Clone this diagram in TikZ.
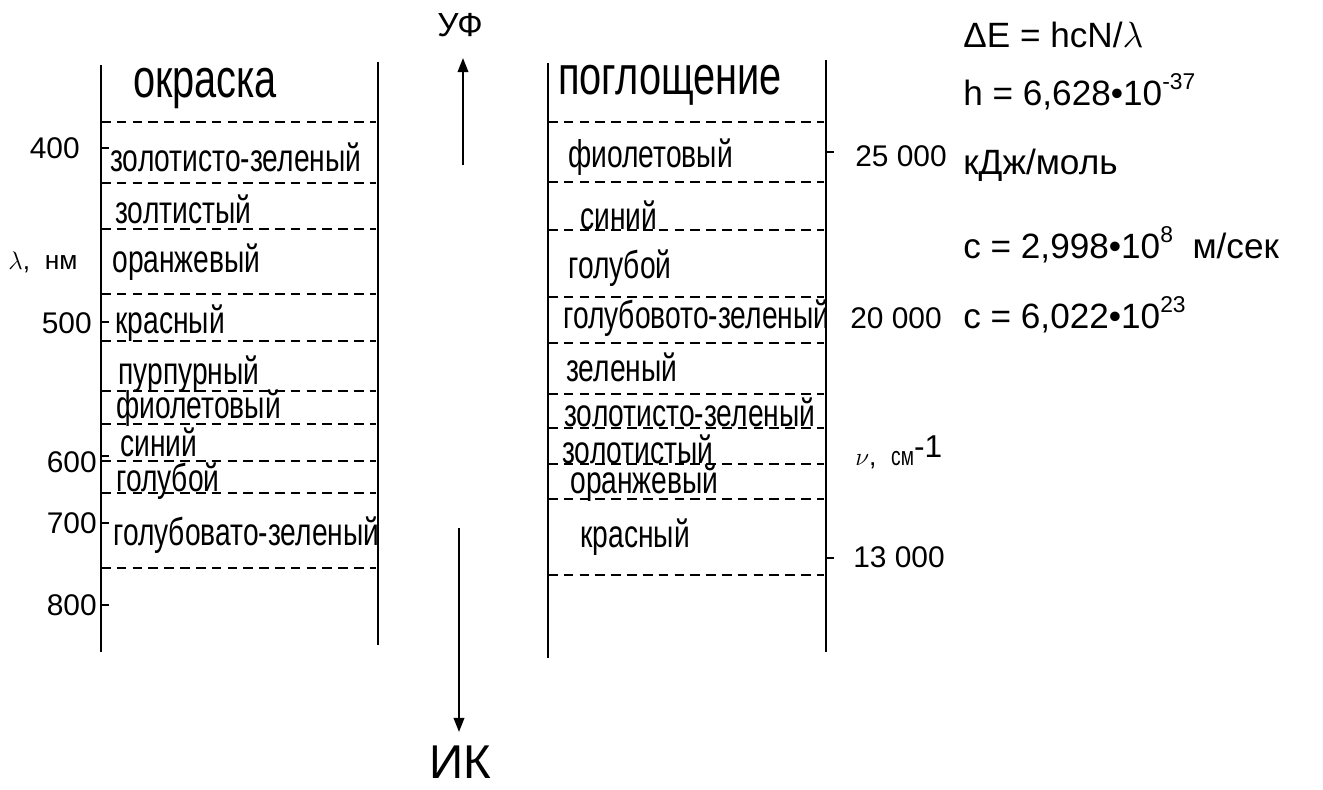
\documentclass[tikz,border=0pt]{standalone}
\usepackage{fontspec}
\setmainfont{Liberation Sans}
\newfontfamily\narrowfont[FakeStretch=0.73]{Liberation Sans}
\usetikzlibrary{arrows.meta}
\newcommand{\supx}[1]{\raisebox{0.85ex}{\fontsize{13}{13}\selectfont #1}}
\tikzset{
  colln/.style={line width=1.1pt},
  bandln/.style={dashed,dash pattern=on 5.5pt off 3.5pt,line width=0.9pt},
  tickln/.style={line width=1pt},
  band/.style={anchor=west,inner sep=0pt,font=\narrowfont\fontsize{22}{22}\selectfont},
  head/.style={inner sep=0pt,font=\narrowfont\fontsize{31}{31}\selectfont},
  num/.style={inner sep=0pt,font=\fontsize{17}{17}\selectfont},
  axlab/.style={inner sep=0pt,font=\fontsize{15}{15}\selectfont},
  frm/.style={anchor=west,inner sep=0pt,font=\fontsize{20}{20}\selectfont},
  dirarr/.style={-{Triangle[length=8pt,width=6pt]},line width=1.1pt},
}
\begin{document}
\begin{tikzpicture}[x=0.02cm,y=-0.02cm]
  \useasboundingbox (0,0) rectangle (1323,789);
  % колонки
  \draw[colln] (101,65)--(101,652);
  \draw[colln] (378,62)--(378,645);
  \draw[colln] (548,63)--(548,658);
  \draw[colln] (826,60)--(826,652);
  \node[head] (okr) at (205,88) {окраска};
  \node[head] (pogl) at (670,85) {поглощение};
  % границы полос
  \foreach \y in {122,183,229,294,341,391,424,461,493,568}
    \draw[bandln] (101,\y)--(376,\y);
  \foreach \y in {122,182,230,297,343,394,428,464,499,575}
    \draw[bandln] (548,\y)--(824,\y);
  % окраска
  \foreach \x/\y/\t [count=\i] in {110/157/{золотисто-зеленый},115/209/{золтистый},
      112/262/{оранжевый},115/323/{красный},118/374/{пурпурный},116/408/{фиолетовый},
      120/442/{синий},116/481/{голубой},113/535/{голубовато-зеленый}}
    \node[band] (ok\i) at (\x,\y) {\t};
  % поглощение
  \foreach \x/\y/\t [count=\i] in {568/157/{фиолетовый},580/215/{синий},568/268/{голубой},
      563/318/{голубовото-зеленый},566/367/{зеленый},564/412/{золотисто-зеленый},
      562/449/{золотистый},570/483/{оранжевый},580/537/{красный}}
    \node[band] (pg\i) at (\x,\y) {\t};
  % шкала длин волн
  \foreach \y in {148,322,456,523,605}
    \draw[tickln] (101,\y)--(109,\y);
  \foreach \r/\y/\t [count=\i] in {80/148/400,92/323/500,97/462/600,97/523/700,97/605/800}
    \node[num,anchor=east] (wl\i) at (\r,\y) {\t};
  \node[axlab,anchor=west] (lam) at (8,262) {$\lambda$,\ \ нм};
  % шкала волновых чисел
  \foreach \y in {152,558}
    \draw[tickln] (826,\y)--(834,\y);
  \foreach \x/\y/\t [count=\i] in {855/156/{25 000},850/318/{20 000},853/557/{13 000}}
    \node[num,anchor=west] (wn\i) at (\x,\y) {\t};
  \node[axlab,anchor=west] (nu) at (855,452) {$\nu$,\ \ {\narrowfont см}\raisebox{0.6ex}{\fontsize{18}{18}\selectfont -1}};
  % УФ и ИК
  \node[inner sep=0pt,font=\fontsize{19}{19}\selectfont] (uf) at (460,25) {УФ};
  \coordinate (ufA) at (463,165);
  \coordinate (ufB) at (463,58);
  \draw[dirarr] (ufA)--(ufB);
  \node[inner sep=0pt,font=\fontsize{27}{27}\selectfont] (ik) at (460,762) {ИК};
  \coordinate (ikA) at (459,528);
  \coordinate (ikB) at (459,732);
  \draw[dirarr] (ikA)--(ikB);
  % формулы
  \node[frm] (f1) at (963,35) {ΔE = hcN/$\lambda$};
  \node[frm] (f2) at (963,92) {h = 6,628•10\supx{-37}};
  \node[frm] (f3) at (963,165) {кДж/моль};
  \node[frm] (f4) at (963,245) {c = 2,998•10\supx{8}\ \ м/сек};
  \node[frm] (f5) at (963,315) {c = 6,022•10\supx{23}};
\end{tikzpicture}
\end{document}
